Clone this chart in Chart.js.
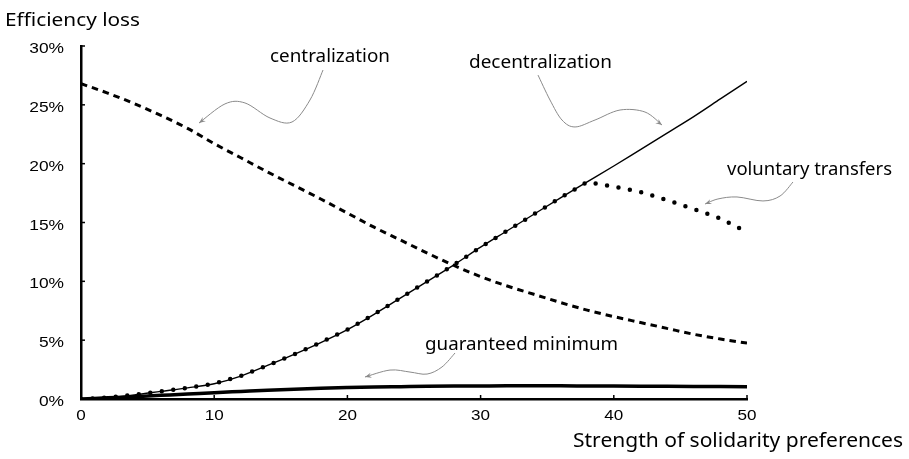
<!DOCTYPE html>
<html><head><meta charset="utf-8">
<script src="https://cdn.jsdelivr.net/npm/chart.js@4.4.0/dist/chart.umd.min.js"></script>
<style>html,body{margin:0;padding:0;background:#fff}#wrap{width:909px;height:459px;position:relative}</style>
</head><body><div id="wrap"><canvas id="c" width="909" height="459"></canvas></div>
<script>
// ---- data ----
const strength = [0,2,4,6,8,10,12,14,16,18,20,22,24,26,28,30,32,34,36,38,40,42,44,46,48,50];
const centralization = [26.8,26.0,25.1,24.1,23.0,21.7,20.5,19.3,18.15,17.0,15.8,14.6,13.5,12.4,11.35,10.4,9.6,8.9,8.2,7.55,7.0,6.5,6.0,5.5,5.1,4.75];
const decentralization = [0,0.12,0.35,0.65,0.95,1.3,1.95,2.85,3.8,4.8,5.9,7.2,8.6,10.0,11.4,12.9,14.3,15.7,17.1,18.45,19.8,21.2,22.6,24.0,25.5,27.0];
const voluntaryTransfers = [0,0.12,0.35,0.65,0.95,1.3,1.95,2.85,3.8,4.8,5.9,7.2,8.6,10.0,11.4,12.9,14.3,15.7,17.1,18.45,18.05,17.6,16.9,16.15,15.35,14.2];
const guaranteedMinimum = [0,0.1,0.2,0.31,0.42,0.54,0.64,0.74,0.83,0.91,0.97,1.02,1.05,1.08,1.1,1.11,1.12,1.12,1.12,1.11,1.1,1.09,1.08,1.07,1.06,1.05];
const xTickValues = [0,10,20,30,40,50];
const xTickLabels = ['0','10','20','30','40','50'];
const yTickValues = [0,5,10,15,20,25,30];
const yTickLabels = ['0%','5%','10%','15%','20%','25%','30%'];
const yTitle = 'Efficiency loss';
const xTitle = 'Strength of solidarity preferences';
const seriesLabels = ['centralization','decentralization','voluntary transfers','guaranteed minimum'];

// ---- annotations (positions in data units) ----
const labelAnchors = [
  {text: seriesLabels[0], x: 14.19, y: 28.64, w: 120},
  {text: seriesLabels[1], x: 29.13, y: 28.13, w: 143},
  {text: seriesLabels[2], x: 48.5,  y: 19.04, w: 165},
  {text: seriesLabels[3], x: 25.83, y: 4.16,  w: 193}
];
const arrowPaths = [
  [[18.17,27.96],[17.19,25.41],[15.84,23.54],[14.19,23.88],[12.31,25.16],[10.81,25.08],[8.86,23.45]],
  [[34.31,27.53],[35.21,25.41],[36.11,23.71],[37.09,23.12],[38.59,23.71],[40.47,24.56],[42.34,24.39],[43.62,23.28]],
  [[53.45,18.44],[52.48,17.25],[51.20,16.83],[49.25,17.17],[47.82,17.0],[46.85,16.57]],
  [[28.08,3.91],[27.10,2.72],[25.98,2.12],[24.70,2.29],[23.20,2.46],[21.32,1.87]]
];

function pts(arr){ return strength.map((x,i)=>({x:x, y:arr[i]})); }

const LABEL_FONT = "'Noto Sans', 'Open Sans', sans-serif";
const TICK_FONT = "'Liberation Sans', Arial, sans-serif";

function fitText(ctx, text, x, y, size, family, width, align){
  ctx.save();
  ctx.font = size + 'px ' + family;
  const m = ctx.measureText(text).width;
  const sx = width ? width / m : 1;
  const w = m * sx;
  let left = x;
  if (align === 'right') left = x - w;
  else if (align === 'center') left = x - w/2;
  ctx.translate(left, y);
  ctx.scale(sx, 1);
  ctx.textAlign = 'left';
  ctx.textBaseline = 'alphabetic';
  ctx.fillStyle = '#000';
  ctx.fillText(text, 0, 0);
  ctx.restore();
}

const decor = {
  id: 'decor',
  afterDraw(chart){
    const ctx = chart.ctx;
    const xs = chart.scales.x, ys = chart.scales.y;
    const ca = chart.chartArea;
    ctx.save();
    ctx.strokeStyle = '#000';
    ctx.lineWidth = 1.5;
    xTickValues.forEach((v,i)=>{
      const px = xs.getPixelForValue(v);
      ctx.beginPath(); ctx.moveTo(px, ca.bottom); ctx.lineTo(px, ca.bottom - 4); ctx.stroke();
      const lab = xTickLabels[i];
      ctx.font = '14px ' + TICK_FONT;
      const w = ctx.measureText(lab).width * 1.22;
      fitText(ctx, lab, px, ca.bottom + 20.5, 14, TICK_FONT, w, 'center');
    });
    yTickValues.forEach((v,i)=>{
      const py = ys.getPixelForValue(v);
      ctx.beginPath(); ctx.moveTo(ca.left - 1, py); ctx.lineTo(ca.left + 4, py); ctx.stroke();
      const lab = yTickLabels[i];
      ctx.font = '14px ' + TICK_FONT;
      const w = ctx.measureText(lab).width * 1.24;
      fitText(ctx, lab, ca.left - 17, py + 7, 14, TICK_FONT, w, 'right');
    });
    fitText(ctx, yTitle, 5, 26, 18, LABEL_FONT, 135, 'left');
    fitText(ctx, xTitle, 573, 447, 19, LABEL_FONT, 330, 'left');
    labelAnchors.forEach(a=>{
      fitText(ctx, a.text, xs.getPixelForValue(a.x), ys.getPixelForValue(a.y), 18, LABEL_FONT, a.w, 'left');
    });
    ctx.strokeStyle = '#8a8a8a';
    ctx.fillStyle = '#8a8a8a';
    ctx.lineWidth = 1;
    arrowPaths.forEach(path=>{
      const p = path.map(d=>[xs.getPixelForValue(d[0]), ys.getPixelForValue(d[1])]);
      ctx.beginPath();
      ctx.moveTo(p[0][0], p[0][1]);
      for (let i=0;i<p.length-1;i++){
        const p0 = p[Math.max(0,i-1)], p1 = p[i], p2 = p[i+1], p3 = p[Math.min(p.length-1,i+2)];
        const c1 = [p1[0] + (p2[0]-p0[0])/6, p1[1] + (p2[1]-p0[1])/6];
        const c2 = [p2[0] - (p3[0]-p1[0])/6, p2[1] - (p3[1]-p1[1])/6];
        ctx.bezierCurveTo(c1[0],c1[1],c2[0],c2[1],p2[0],p2[1]);
      }
      ctx.stroke();
      const e = p[p.length-1], b = p[p.length-2];
      const ang = Math.atan2(e[1]-b[1], e[0]-b[0]);
      const L = 7, spread = 0.38;
      ctx.beginPath();
      ctx.moveTo(e[0], e[1]);
      ctx.lineTo(e[0] - L*Math.cos(ang - spread), e[1] - L*Math.sin(ang - spread));
      ctx.lineTo(e[0] - L*0.6*Math.cos(ang), e[1] - L*0.6*Math.sin(ang));
      ctx.lineTo(e[0] - L*Math.cos(ang + spread), e[1] - L*Math.sin(ang + spread));
      ctx.closePath();
      ctx.fill();
    });
    ctx.restore();
  }
};

new Chart(document.getElementById('c'), {
  type: 'line',
  data: {
    datasets: [
      {label: seriesLabels[3], data: pts(guaranteedMinimum), borderColor:'#000', borderWidth:3.5, pointRadius:0, cubicInterpolationMode:'monotone'},
      {label: seriesLabels[0], data: pts(centralization), borderColor:'#000', borderWidth:3, borderDash:[6.5,5], pointRadius:0, cubicInterpolationMode:'monotone'},
      {label: seriesLabels[1], data: pts(decentralization), borderColor:'#000', borderWidth:1.4, pointRadius:0, cubicInterpolationMode:'monotone'},
      {label: seriesLabels[2], data: pts(voluntaryTransfers), borderColor:'#000', borderWidth:4.5, borderDash:[0,11.6], borderCapStyle:'round', pointRadius:0, tension:0}
    ]
  },
  options: {
    responsive: false,
    animation: false,
    layout: {padding: {left: 0, right: 162, top: 46, bottom: 0}},
    plugins: {legend: {display:false}, tooltip: {enabled:false}},
    scales: {
      x: {type:'linear', min:0, max:50,
          grid:{display:false, drawTicks:false},
          border:{display:true, color:'#000', width:2.5},
          ticks:{display:false},
          afterFit(s){ s.height = 60; }},
      y: {type:'linear', min:0, max:30,
          grid:{display:false, drawTicks:false},
          border:{display:true, color:'#000', width:2.5},
          ticks:{display:false},
          afterFit(s){ s.width = 81; }}
    }
  },
  plugins: [decor]
});
</script>
</body></html>
